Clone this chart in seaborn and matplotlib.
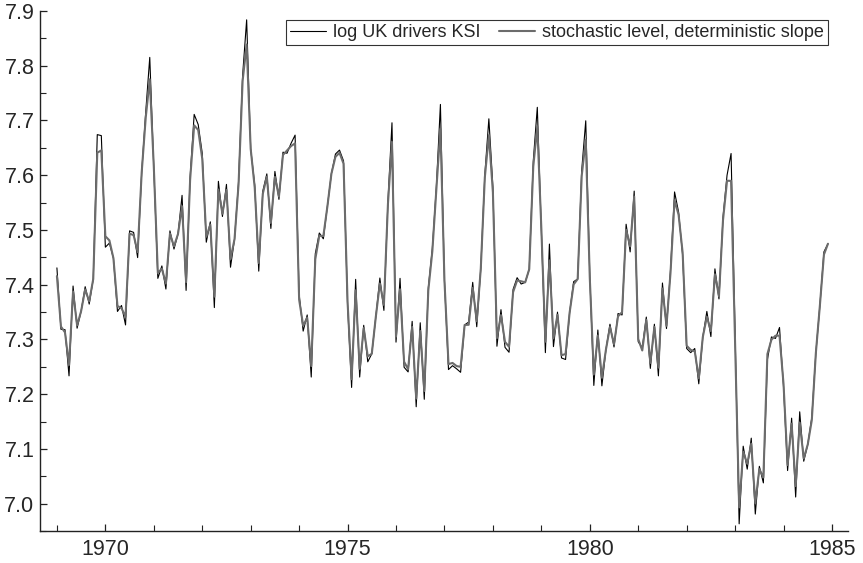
import numpy as np
import pandas as pd
import matplotlib
matplotlib.use("Agg")
import matplotlib.pyplot as plt
import seaborn as sns
from matplotlib.ticker import MultipleLocator

# UK car drivers killed or seriously injured, monthly counts 1969-1984
drivers_ksi = [
    1687, 1508, 1507, 1385, 1632, 1511, 1559, 1630, 1579, 1653, 2152, 2148,
    1752, 1765, 1717, 1558, 1575, 1520, 1805, 1800, 1719, 2008, 2242, 2478,
    2030, 1655, 1693, 1623, 1805, 1746, 1795, 1926, 1619, 1992, 2233, 2192,
    2080, 1768, 1835, 1569, 1976, 1853, 1965, 1689, 1778, 1976, 2397, 2654,
    2097, 1963, 1677, 1941, 2003, 1813, 2012, 1912, 2084, 2080, 2118, 2150,
    1608, 1503, 1548, 1382, 1731, 1798, 1779, 1887, 2004, 2077, 2092, 2051,
    1577, 1356, 1652, 1382, 1519, 1421, 1442, 1543, 1656, 1561, 1905, 2199,
    1473, 1655, 1407, 1395, 1530, 1309, 1526, 1327, 1627, 1748, 1958, 2274,
    1648, 1401, 1411, 1403, 1394, 1520, 1528, 1643, 1515, 1685, 2000, 2215,
    1956, 1462, 1563, 1459, 1446, 1622, 1657, 1638, 1643, 1683, 2050, 2262,
    1813, 1445, 1762, 1461, 1556, 1431, 1427, 1554, 1645, 1653, 2016, 2207,
    1665, 1361, 1506, 1360, 1453, 1522, 1460, 1552, 1548, 1827, 1737, 1941,
    1474, 1458, 1542, 1404, 1522, 1385, 1641, 1510, 1681, 1938, 1868, 1726,
    1456, 1445, 1456, 1365, 1487, 1558, 1488, 1684, 1594, 1850, 1998, 2079,
    1494, 1057, 1218, 1168, 1236, 1076, 1174, 1139, 1427, 1487, 1483, 1513,
    1357, 1165, 1282, 1110, 1297, 1185, 1222, 1284, 1444, 1575, 1737, 1763,
]

fit_gap = [
    -0.015, 0.005, -0.005, 0.02, -0.01, 0.005, 0.0, -0.005, 0.005, 0.0, -0.033, -0.027,
    0.02, 0.005, 0.0, 0.01, -0.005, 0.015, -0.005, -0.005, 0.01, 0.0, -0.01, -0.04,
    0.0, 0.01, -0.005, 0.01, -0.005, 0.005, 0.0, -0.02, 0.015, -0.005, -0.02, -0.01,
    -0.01, 0.01, -0.005, 0.02, -0.015, 0.005, -0.01, 0.015, 0.0, -0.005, -0.01, -0.045,
    0.0, -0.005, 0.015, -0.005, -0.005, 0.01, -0.01, 0.005, -0.005, 0.005, -0.005, -0.015,
    -0.01, 0.01, -0.005, 0.02, -0.01, -0.005, 0.005, 0.0, 0.0, -0.005, -0.005, -0.005,
    0.005, 0.015, -0.02, 0.015, -0.005, 0.01, 0.0, 0.0, -0.01, 0.01, -0.005, -0.035,
    0.01, -0.02, 0.01, 0.005, -0.01, 0.015, -0.015, 0.015, -0.005, -0.005, -0.005, -0.045,
    0.0, 0.01, 0.005, 0.005, 0.01, 0.0, -0.005, -0.01, 0.01, 0.0, -0.005, -0.03,
    -0.01, 0.015, -0.01, 0.01, 0.01, -0.005, -0.005, 0.005, 0.0, 0.0, -0.01, -0.035,
    0.0, 0.02, -0.03, 0.015, -0.005, 0.005, 0.01, 0.0, -0.005, 0.0, -0.01, -0.035,
    -0.005, 0.02, -0.01, 0.015, 0.0, -0.005, 0.005, -0.005, 0.005, -0.01, 0.01, -0.01,
    0.005, -0.005, -0.005, 0.01, -0.005, 0.015, -0.01, 0.005, -0.005, -0.015, -0.005, 0.005,
    0.005, 0.005, -0.005, 0.01, 0.0, -0.01, 0.01, -0.01, 0.005, -0.005, -0.01, -0.05,
    -0.02, 0.03, -0.01, 0.01, -0.01, 0.02, -0.005, 0.01, 0.01, -0.005, 0.005, -0.015,
    0.005, 0.01, -0.01, 0.02, -0.02, 0.005, 0.0, -0.005, 0.0, 0.0, -0.005, 0.0,
]

start_year = 1969
labels = ["log UK drivers KSI", "stochastic level, deterministic slope"]

time = start_year + np.arange(len(drivers_ksi)) / 12
log_ksi = np.log(np.array(drivers_ksi, dtype=float))
fitted = log_ksi + np.array(fit_gap)

df = pd.DataFrame({"time": time, "obs": log_ksi, "fit": fitted})

sns.set_style("ticks")
plt.rcParams["font.family"] = ["Liberation Sans", "DejaVu Sans"]

fig, ax = plt.subplots(figsize=(8.63, 5.63), dpi=100)
fig.subplots_adjust(left=0.0463, right=0.9826, bottom=0.0568, top=0.9805)

sns.lineplot(data=df, x="time", y="obs", ax=ax, color="black", linewidth=0.8, label=labels[0])
sns.lineplot(data=df, x="time", y="fit", ax=ax, color="#6c6c6c", linewidth=1.5, label=labels[1])

ax.set_xlim(1968.65, 1985.33)
ax.set_ylim(6.95, 7.9)
ax.xaxis.set_major_locator(MultipleLocator(5))
ax.xaxis.set_minor_locator(MultipleLocator(1))
ax.yaxis.set_major_locator(MultipleLocator(0.1))
ax.yaxis.set_minor_locator(MultipleLocator(0.05))
ax.yaxis.set_major_formatter(plt.FormatStrFormatter("%.1f"))
ax.tick_params(which="both", direction="in", labelsize=15.5, color="#222222")
ax.tick_params(which="major", length=5, width=0.9)
ax.tick_params(which="minor", length=4, width=0.8)
ax.tick_params(axis="x", pad=6)
ax.tick_params(axis="y", pad=4)
ax.set_xlabel("")
ax.set_ylabel("")
sns.despine(ax=ax)
for s in ["left", "bottom"]:
    ax.spines[s].set_linewidth(1.0)
    ax.spines[s].set_color("#222222")

leg = ax.legend(loc="upper right", bbox_to_anchor=(0.975, 0.982), ncol=2, fontsize=13,
                frameon=True, fancybox=False, edgecolor="black", borderpad=0.2,
                handlelength=2.0, handletextpad=0.4, columnspacing=1.0, borderaxespad=0)
leg.get_frame().set_linewidth(0.8)

fig.savefig("out.png", dpi=100)
